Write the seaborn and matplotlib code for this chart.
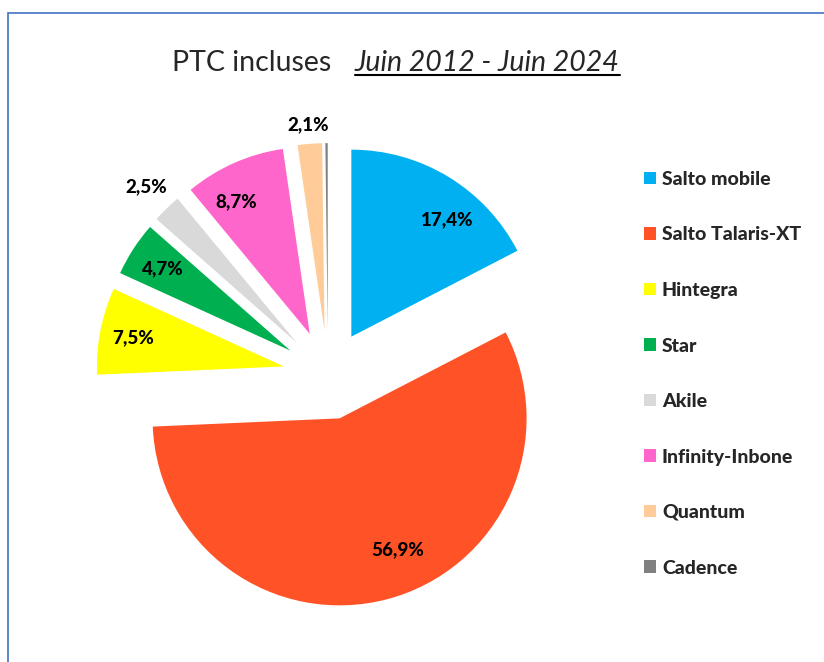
import matplotlib
matplotlib.use("Agg")
import matplotlib.pyplot as plt
import matplotlib.patches as mpatches
import matplotlib.lines as mlines
import numpy as np
import seaborn as sns

# données
labels = ["Salto mobile", "Salto Talaris-XT", "Hintegra", "Star", "Akile",
          "Infinity-Inbone", "Quantum", "Cadence"]
values = [17.4, 56.9, 7.5, 4.7, 2.5, 8.7, 2.1, 0.2]
colors = ["#00B0F0", "#FF5226", "#FFFF00", "#00B050", "#D9D9D9",
          "#FF66CC", "#FFCC99", "#808080"]

# placement des étiquettes : distance depuis la pointe (en rayons) et décalage d'angle
label_dist = [0.81, 0.77, 0.82, 0.81, 1.16, 0.81, 1.10, None]
label_rot = [-8, 9, 0, 0, 0, 5, 0, 0]

sns.set_style("white")
plt.rcParams["font.family"] = ["Lato", "DejaVu Sans"]

W, H, DPI = 824, 662, 100
fig = plt.figure(figsize=(W / DPI, H / DPI), dpi=DPI)
ax = fig.add_axes([0, 0, 1, 1])

R_PX = 187.0
cx_px, cy_px = 328.0, 375.0

palette = sns.color_palette(colors)
wedges, _ = ax.pie(values, colors=palette, startangle=90, counterclock=False,
                   explode=[0.24] * len(values), radius=1.0,
                   wedgeprops=dict(linewidth=0))

ax.set_xlim(-cx_px / R_PX, (W - cx_px) / R_PX)
ax.set_ylim(-(H - cy_px) / R_PX, cy_px / R_PX)
ax.set_aspect("equal")
ax.axis("off")

for w, v, d, rot in zip(wedges, values, label_dist, label_rot):
    if d is None:
        continue
    th = np.deg2rad((w.theta1 + w.theta2) / 2 + rot)
    x = w.center[0] + d * w.r * np.cos(th)
    y = w.center[1] + d * w.r * np.sin(th)
    ax.text(x, y, f"{v:.1f}".replace(".", ",") + "%", ha="center", va="center",
            fontsize=13.5, fontweight="black", color="black")

# titre
base_y = 1 - 71 / H
fig.text(331 / W, base_y, "PTC incluses", ha="right", va="baseline", fontsize=20.5)
t2 = fig.text(355 / W, base_y, "Juin 2012 - Juin 2024", ha="left", va="baseline",
              fontsize=20.5, style="italic")
fig.canvas.draw()
bb = t2.get_window_extent().transformed(fig.transFigure.inverted())
fig.add_artist(mlines.Line2D([bb.x0, bb.x1], [1 - 75 / H, 1 - 75 / H],
                             transform=fig.transFigure, color="black", lw=1.5))

# légende
fig.legend(wedges, labels, loc="upper left", bbox_to_anchor=(644 / W, 1 - 171 / H),
           frameon=False, borderpad=0, borderaxespad=0, handlelength=0.62,
           handleheight=0.62, handletextpad=0.3, labelspacing=1.98,
           prop=dict(size=14, weight="black"))

# cadre
fig.add_artist(mpatches.Rectangle((8 / W, -0.1), 1.2, 1.1 - 13 / H,
                                  transform=fig.transFigure, fill=False,
                                  edgecolor="#4472C4", lw=1.2))

fig.savefig("out.png", dpi=DPI)
